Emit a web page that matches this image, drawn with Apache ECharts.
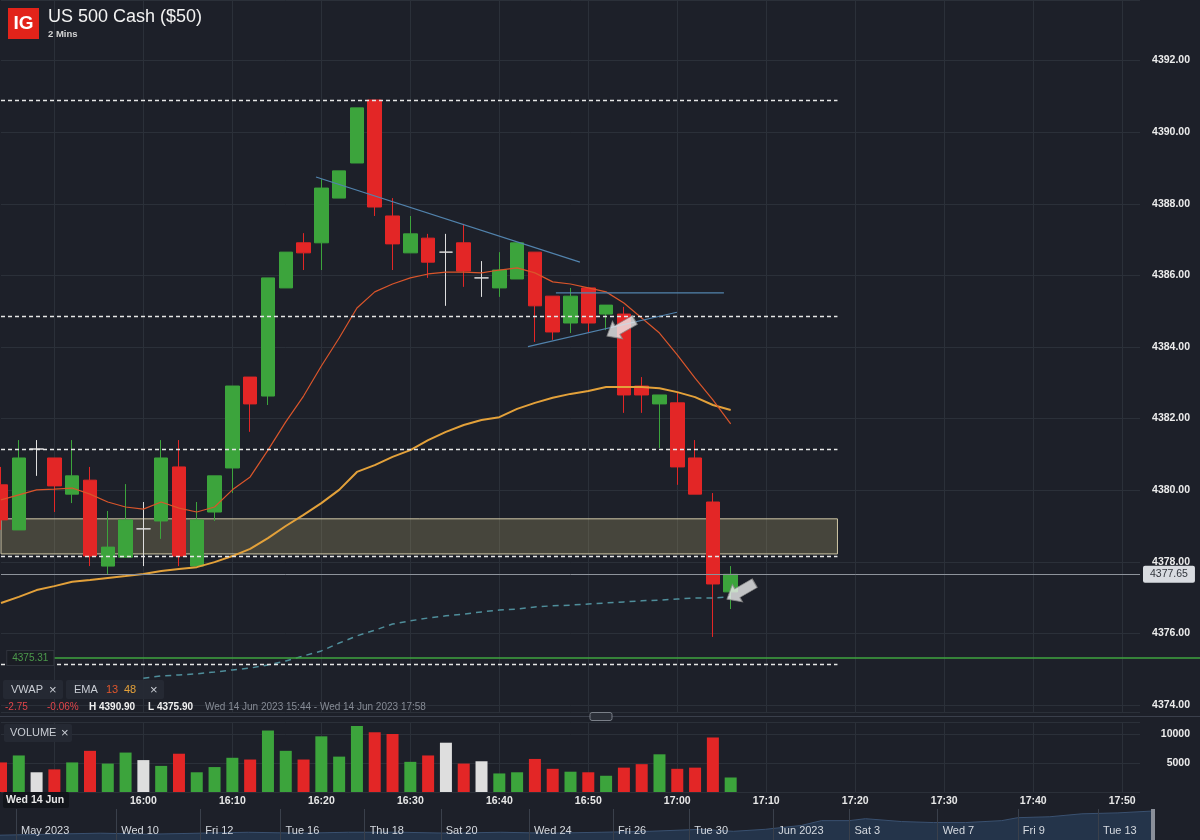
<!DOCTYPE html>
<html>
<head>
<meta charset="utf-8">
<title>US 500 Cash ($50) - 2 Mins</title>
<script src="https://cdn.jsdelivr.net/npm/echarts@6/dist/echarts.min.js"></script>
<style>
    html, body { margin: 0; padding: 0; background: #1d2029; }
    #chart { width: 1200px; height: 840px; }
</style>
</head>
<body>
<div id="chart"></div>
<script>
// 2 minute slots on the time axis
var times = [
    '15:44', '15:46', '15:48', '15:50', '15:52', '15:54', '15:56', '15:58',
    '16:00', '16:02', '16:04', '16:06', '16:08', '16:10', '16:12', '16:14', '16:16', '16:18',
    '16:20', '16:22', '16:24', '16:26', '16:28', '16:30', '16:32', '16:34', '16:36', '16:38',
    '16:40', '16:42', '16:44', '16:46', '16:48', '16:50', '16:52', '16:54', '16:56', '16:58',
    '17:00', '17:02', '17:04', '17:06', '17:08', '17:10', '17:12', '17:14', '17:16', '17:18',
    '17:20', '17:22', '17:24', '17:26', '17:28', '17:30', '17:32', '17:34', '17:36', '17:38',
    '17:40', '17:42', '17:44', '17:46', '17:48', '17:50', '17:52'
];

// [open, close, low, high]
var candles = [
    [4380.15, 4379.17, 4378.89, 4380.65],
    [4378.89, 4380.90, 4378.89, 4381.40],
    [4381.15, 4381.15, 4380.40, 4381.40],
    [4380.90, 4380.12, 4379.39, 4380.90],
    [4379.89, 4380.40, 4379.64, 4381.40],
    [4380.28, 4378.16, 4377.88, 4380.65],
    [4377.88, 4378.41, 4377.63, 4379.42],
    [4378.13, 4379.17, 4378.13, 4380.17],
    [4378.92, 4378.92, 4377.88, 4379.67],
    [4379.14, 4380.90, 4378.64, 4381.40],
    [4380.65, 4378.16, 4377.88, 4381.40],
    [4377.88, 4379.17, 4377.88, 4379.67],
    [4379.39, 4380.40, 4379.14, 4380.40],
    [4380.62, 4382.91, 4379.92, 4382.91],
    [4383.16, 4382.41, 4381.63, 4383.16],
    [4382.63, 4385.93, 4382.38, 4385.93],
    [4385.65, 4386.65, 4385.65, 4386.65],
    [4386.91, 4386.63, 4386.15, 4387.18],
    [4386.91, 4388.44, 4386.15, 4388.69],
    [4388.16, 4388.92, 4388.16, 4388.92],
    [4389.14, 4390.68, 4389.14, 4390.68],
    [4390.90, 4387.91, 4387.66, 4390.90],
    [4387.66, 4386.88, 4386.15, 4388.16],
    [4386.63, 4387.16, 4386.63, 4387.66],
    [4387.04, 4386.37, 4385.93, 4387.16],
    [4386.65, 4386.65, 4385.15, 4387.16],
    [4386.91, 4386.12, 4385.68, 4387.44],
    [4385.93, 4385.93, 4385.40, 4386.40],
    [4385.65, 4386.15, 4385.40, 4386.65],
    [4385.90, 4386.91, 4385.90, 4386.91],
    [4386.65, 4385.15, 4384.14, 4386.65],
    [4385.42, 4384.42, 4384.20, 4385.42],
    [4384.67, 4385.42, 4384.39, 4385.65],
    [4385.65, 4384.67, 4384.42, 4385.65],
    [4384.92, 4385.17, 4384.47, 4385.17],
    [4384.92, 4382.66, 4382.16, 4385.12],
    [4382.91, 4382.66, 4382.16, 4383.16],
    [4382.41, 4382.66, 4381.18, 4382.66],
    [4382.44, 4380.65, 4380.15, 4382.72],
    [4380.90, 4379.89, 4379.89, 4381.40],
    [4379.67, 4377.38, 4375.90, 4379.92],
    [4377.16, 4377.65, 4376.68, 4377.88]
];

var volumes = [
    5100, 6300, 3400, 3900, 5100, 7100, 4900, 6800, 5500, 4500,
    6600, 3400, 4300, 5900, 5600, 10600, 7100, 5600, 9600, 6100,
    11400, 10300, 10000, 5200, 6300, 8500, 4900, 5300, 3200, 3400,
    5700, 4000, 3500, 3400, 2800, 4200, 4800, 6500, 4000, 4200,
    9400, 2500
];

var ema13 = [
    4379.73, 4379.87, 4380.01, 4380.03, 4380.06, 4379.89, 4379.67, 4379.53, 4379.47, 4379.67,
    4379.50, 4379.39, 4379.53, 4380.01, 4380.37, 4381.12, 4381.91, 4382.63, 4383.47, 4384.25,
    4385.09, 4385.54, 4385.76, 4385.93, 4386.04, 4386.09, 4386.09, 4386.07, 4386.15, 4386.21,
    4386.07, 4385.82, 4385.76, 4385.65, 4385.54, 4385.23, 4384.81, 4384.39, 4383.78, 4383.13,
    4382.52, 4381.85
];

var ema48 = [
    4376.85, 4377.02, 4377.21, 4377.32, 4377.44, 4377.49, 4377.55, 4377.60, 4377.66, 4377.74,
    4377.80, 4377.85, 4377.99, 4378.16, 4378.36, 4378.66, 4379.00, 4379.31, 4379.64, 4380.01,
    4380.51, 4380.70, 4380.93, 4381.12, 4381.40, 4381.63, 4381.82, 4381.96, 4382.04, 4382.27,
    4382.44, 4382.58, 4382.69, 4382.77, 4382.88, 4382.88, 4382.88, 4382.85, 4382.74, 4382.60,
    4382.38, 4382.24
];

// vwap only visible from the 16:00 candle on
var vwapFrom = 8;
var vwap = [
    4374.75, 4374.81, 4374.84, 4374.87, 4374.92, 4374.98, 4375.03, 4375.12, 4375.23, 4375.37,
    4375.51, 4375.73, 4375.93, 4376.09, 4376.26, 4376.35, 4376.43, 4376.49, 4376.54, 4376.60,
    4376.65, 4376.68, 4376.74, 4376.77, 4376.79, 4376.82, 4376.85, 4376.88, 4376.91, 4376.93,
    4376.96, 4376.99, 4376.99, 4377.02
];

// drawn annotations, x in candle slots
var trendA = [[17.70, 4388.75], [32.53, 4386.37]];
var trendB = [[31.18, 4385.51], [40.62, 4385.51]];
var trendC = [[29.61, 4384.01], [37.98, 4384.97]];
var arrowMarks = [[34.83, 4384.53], [41.57, 4377.18]];
var dashedLevels = [4390.90, 4384.86, 4381.14, 4378.15, 4375.14];
var zoneTop = 4379.20;
var zoneBottom = 4378.22;
var lastPrice = 4377.65;
var greenLevel = 4375.31;

// navigator strip at the bottom
var navTicks = [
    ['May 2023', 4], ['Wed 10', 29], ['Fri 12', 50], ['Tue 16', 70], ['Thu 18', 91],
    ['Sat 20', 110], ['Wed 24', 132], ['Fri 26', 153], ['Tue 30', 172], ['Jun 2023', 193],
    ['Sat 3', 212], ['Wed 7', 234], ['Fri 9', 254], ['Tue 13', 274]
];
var navPrices = [
    [0, 4062], [12, 4075], [25, 4088], [37, 4075], [50, 4088], [62, 4100], [75, 4088],
    [87, 4100], [100, 4100], [112, 4088], [125, 4100], [137, 4088], [150, 4100], [162, 4112],
    [175, 4138], [183, 4112], [191, 4138], [200, 4188], [205, 4250], [212, 4250], [216, 4275],
    [225, 4238], [233, 4225], [241, 4225], [250, 4250], [254, 4288], [262, 4300], [270, 4338],
    [279, 4350], [288, 4375]
];
var NAV_SLOTS = 289;

var BG = '#1d2029';
var GRID = '#2b3039';
var UP = '#3ca43c';
var DOWN = '#e32626';
var DOJI = '#dedede';
var TREND = '#5283ad';
var FONT = '"Liberation Sans", Arial, sans-serif';

(function () {
    var chart = echarts.init(document.getElementById('chart'));

    var onTen = function (idx, val) { return /0$/.test(val); };

    var candleData = candles.map(function (c) {
        if (c[0] === c[1]) {
            return { value: c, itemStyle: { color: DOJI, color0: DOJI, borderColor: DOJI, borderColor0: DOJI } };
        }
        return c;
    });

    var volData = volumes.map(function (v, i) {
        var c = candles[i];
        var col = c[1] > c[0] ? UP : (c[1] < c[0] ? DOWN : DOJI);
        return { value: v, itemStyle: { color: col } };
    });

    var vwapData = [];
    for (var k = 0; k < vwapFrom; k++) vwapData.push('-');
    vwapData = vwapData.concat(vwap);

    var navSlots = [];
    for (var s = 0; s < NAV_SLOTS; s++) navSlots.push('');
    navTicks.forEach(function (t) { navSlots[t[1]] = t[0]; });
    var hasNavLabel = function (idx, val) { return val !== ''; };

    var lastCat = times[times.length - 1];

    var txt = function (x, y, text, size, color, weight) {
        return {
            type: 'text', x: x, y: y, z: 100,
            style: { text: text, fill: color, fontSize: size, fontWeight: weight || 'normal', fontFamily: FONT, verticalAlign: 'middle' }
        };
    };
    var box = function (x, y, w, h, fill) {
        return { type: 'rect', x: x, y: y, z: 99, shape: { width: w, height: h, r: 2 }, style: { fill: fill } };
    };

    var option = {
        backgroundColor: BG,
        animation: false,
        textStyle: { fontFamily: FONT },

        grid: [
            { left: 1, right: 60, top: 0, height: 712 },
            { left: 1, right: 60, top: 722, height: 70 },
            { left: 0, right: 46, top: 809, height: 31 }
        ],

        xAxis: [
            {
                gridIndex: 0, type: 'category', data: times, boundaryGap: false,
                axisLine: { show: false }, axisTick: { show: false }, axisLabel: { show: false },
                splitLine: { show: true, interval: onTen, lineStyle: { color: GRID } }
            },
            {
                gridIndex: 1, type: 'category', data: times, boundaryGap: false,
                axisLine: { show: false }, axisTick: { show: false },
                axisLabel: {
                    interval: onTen, margin: 4, color: '#e8e8e8', fontSize: 10.5, fontWeight: 'bold',
                    formatter: function (v) { return v === '15:50' ? '' : v; }
                },
                splitLine: { show: true, interval: onTen, lineStyle: { color: GRID } }
            },
            { gridIndex: 0, type: 'value', min: 0, max: times.length - 1, show: false, position: 'top' },
            {
                gridIndex: 2, type: 'category', data: navSlots, boundaryGap: false, z: 10,
                axisLine: { show: false }, axisTick: { show: false },
                axisLabel: { interval: hasNavLabel, inside: true, align: 'left', padding: [0, 0, 0, 5], margin: 4, color: '#d6dae0', fontSize: 11 },
                splitLine: { show: true, interval: hasNavLabel, lineStyle: { color: '#3a404b' } }
            },
            { gridIndex: 2, type: 'value', min: 0, max: NAV_SLOTS - 1, show: false, position: 'top' }
        ],

        yAxis: [
            {
                gridIndex: 0, type: 'value', position: 'right',
                min: 4373.804, max: 4393.693, splitNumber: 10, minInterval: 2, maxInterval: 2,
                axisLine: { show: false }, axisTick: { show: false },
                axisLabel: {
                    showMinLabel: false, showMaxLabel: false, align: 'right', margin: 50,
                    color: '#ececec', fontSize: 10.5, fontWeight: 'bold',
                    formatter: function (v) { return v.toFixed(2); }
                },
                splitLine: { lineStyle: { color: GRID } }
            },
            {
                gridIndex: 1, type: 'value', position: 'right', min: 0, max: 12070, interval: 5000,
                axisLine: { show: false }, axisTick: { show: false },
                axisLabel: {
                    showMinLabel: false, showMaxLabel: false, align: 'right', margin: 50,
                    color: '#ececec', fontSize: 10.5, fontWeight: 'bold',
                    formatter: function (v) { return String(v); }
                },
                splitLine: { lineStyle: { color: GRID } }
            },
            { gridIndex: 2, type: 'value', min: 4000, max: 4400, show: false }
        ],

        series: [
            {
                name: 'US 500', type: 'candlestick', xAxisIndex: 0, yAxisIndex: 0,
                barWidth: 14, z: 2,
                itemStyle: { color: UP, color0: DOWN, borderColor: UP, borderColor0: DOWN, borderWidth: 1 },
                data: candleData
            },
            {
                name: 'zone', type: 'line', xAxisIndex: 0, yAxisIndex: 0, data: [], z: 3,
                markArea: {
                    silent: true,
                    itemStyle: { color: 'rgba(196,178,120,0.25)', borderColor: '#cfc6a6', borderWidth: 1 },
                    data: [[{ xAxis: times[0], yAxis: zoneTop }, { xAxis: times[47], yAxis: zoneBottom }]]
                }
            },
            {
                name: 'VWAP', type: 'line', xAxisIndex: 0, yAxisIndex: 0, data: vwapData,
                symbol: 'none', z: 4, lineStyle: { color: '#4f8e9b', width: 1.5, type: [6, 5] }
            },
            {
                name: 'EMA 48', type: 'line', xAxisIndex: 0, yAxisIndex: 0, data: ema48,
                symbol: 'none', z: 4, lineStyle: { color: '#e3a13a', width: 2 }
            },
            {
                name: 'EMA 13', type: 'line', xAxisIndex: 0, yAxisIndex: 0, data: ema13,
                symbol: 'none', z: 4, lineStyle: { color: '#d9552b', width: 1.2 }
            },
            {
                name: 'levels', type: 'line', xAxisIndex: 0, yAxisIndex: 0, data: [], z: 5,
                markLine: {
                    silent: true, symbol: ['none', 'none'], label: { show: false },
                    lineStyle: { color: '#e6e6e6', type: [4, 3], width: 1.3 },
                    data: dashedLevels.map(function (v) {
                        return [{ xAxis: times[0], yAxis: v }, { xAxis: times[47], yAxis: v }];
                    })
                }
            },
            {
                name: 'price lines', type: 'line', xAxisIndex: 0, yAxisIndex: 0, data: [], z: 5,
                markLine: {
                    silent: true, symbol: ['none', 'none'],
                    data: [
                        [
                            { xAxis: times[0], yAxis: lastPrice, lineStyle: { color: '#8e939b', width: 1, type: 'solid' },
                              label: { show: true, position: 'end', distance: 3, formatter: '4377.65', color: '#30343b', backgroundColor: '#d8dbe0', padding: [3, 7], borderRadius: 2, fontSize: 10.5 } },
                            { xAxis: lastCat, yAxis: lastPrice }
                        ],
                        [
                            { xAxis: times[3], yAxis: greenLevel, lineStyle: { color: '#3fa43f', width: 1.5, type: 'solid' },
                              label: { show: true, position: 'start', distance: 1, formatter: '4375.31', color: '#4c9a4c', backgroundColor: '#1a1d24', borderColor: '#2f333c', borderWidth: 1, padding: [2, 5], fontSize: 10 } },
                            { x: 1200, yAxis: greenLevel }
                        ]
                    ]
                }
            },
            {
                name: 'trend 1', type: 'line', xAxisIndex: 2, yAxisIndex: 0, data: trendA,
                symbol: 'none', z: 6, lineStyle: { color: TREND, width: 1.2 }
            },
            {
                name: 'trend 2', type: 'line', xAxisIndex: 2, yAxisIndex: 0, data: trendB,
                symbol: 'none', z: 6, lineStyle: { color: TREND, width: 1.2 }
            },
            {
                name: 'trend 3', type: 'line', xAxisIndex: 2, yAxisIndex: 0, data: trendC,
                symbol: 'none', z: 6, lineStyle: { color: TREND, width: 1.2 }
            },
            {
                name: 'arrows', type: 'scatter', xAxisIndex: 2, yAxisIndex: 0, data: arrowMarks, z: 10,
                symbol: 'path://M0,10 L12,0 L12,5 L32,5 L32,15 L12,15 L12,20 Z',
                symbolSize: [32, 20], symbolRotate: 30,
                itemStyle: { color: '#ececec', borderColor: '#8a8a8a', borderWidth: 1 }
            },
            {
                name: 'Volume', type: 'bar', xAxisIndex: 1, yAxisIndex: 1, barWidth: 12,
                data: volData
            },
            {
                name: 'navigator', type: 'line', xAxisIndex: 4, yAxisIndex: 2, data: navPrices, z: 1,
                symbol: 'none', lineStyle: { color: '#3a5170', width: 1 },
                areaStyle: { color: '#24344a', opacity: 1 }
            }
        ],

        graphic: [
            { type: 'rect', x: 8, y: 8, z: 100, shape: { width: 31, height: 31 }, style: { fill: '#e2231a' } },
            { type: 'text', x: 23.5, y: 24, z: 101, style: { text: 'IG', fill: '#fff', fontSize: 19, fontWeight: 'bold', fontFamily: FONT, align: 'center', verticalAlign: 'middle' } },
            txt(48, 17, 'US 500 Cash ($50)', 18, '#f2f2f2'),
            txt(48, 34, '2 Mins', 9.5, '#d4d4d4', 'bold'),

            box(3, 680, 60, 19, 'rgba(38,42,52,0.95)'),
            txt(11, 690, 'VWAP', 11, '#c9cdd4'),
            txt(49, 690, '×', 13, '#c9cdd4'),
            box(66, 680, 98, 19, 'rgba(38,42,52,0.95)'),
            txt(74, 690, 'EMA', 11, '#c9cdd4'),
            txt(106, 690, '13', 11, '#e0562c'),
            txt(124, 690, '48', 11, '#e3a13a'),
            txt(150, 690, '×', 13, '#c9cdd4'),

            txt(5, 707, '-2.75', 10, '#e0454a'),
            txt(47, 707, '-0.06%', 10, '#e0454a'),
            txt(89, 707, 'H 4390.90', 10, '#f0f0f0', 'bold'),
            txt(148, 707, 'L 4375.90', 10, '#f0f0f0', 'bold'),
            txt(205, 707, 'Wed 14 Jun 2023 15:44 - Wed 14 Jun 2023 17:58', 10, '#868b95'),

            { type: 'rect', x: 0, y: 716, z: 98, shape: { width: 1200, height: 1 }, style: { fill: '#3a3f4b' } },
            { type: 'rect', x: 590, y: 712.5, z: 100, shape: { width: 22, height: 8, r: 2 }, style: { fill: '#2b2f38', stroke: '#7a7f88', lineWidth: 1 } },

            box(4, 724, 68, 18, 'rgba(38,42,52,0.95)'),
            txt(10, 733, 'VOLUME', 11, '#c9cdd4'),
            txt(61, 733, '×', 13, '#c9cdd4'),

            box(3, 792, 66, 16, '#12151b'),
            txt(6, 800, 'Wed 14 Jun', 10.5, '#e8e8e8', 'bold'),

            { type: 'rect', x: 1151, y: 809, z: 100, shape: { width: 4, height: 31 }, style: { fill: '#8a8f99' } }
        ]
    };

    chart.setOption(option);
})();
</script>
</body>
</html>
